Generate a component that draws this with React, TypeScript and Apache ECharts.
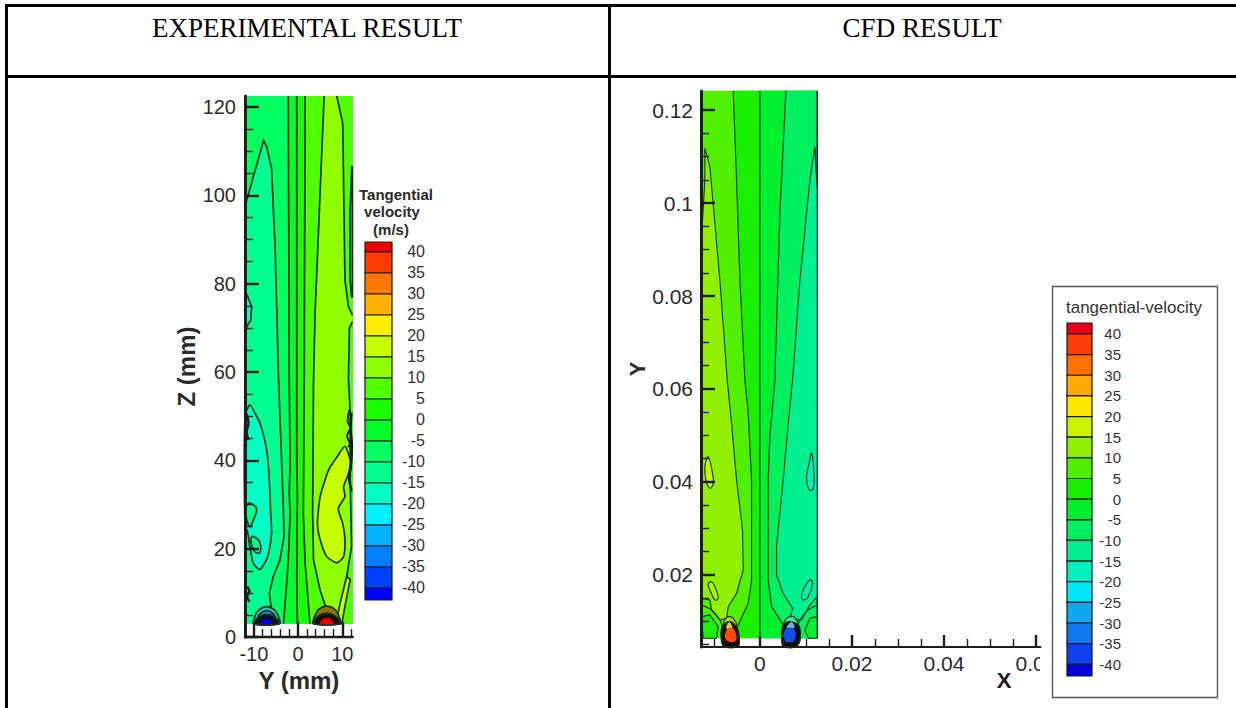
import React, { useEffect, useRef } from "react";
import * as echarts from "echarts";

type P = number[];

// ---------- legend ----------
const levelValues = [40, 35, 30, 25, 20, 15, 10, 5, 0, -5, -10, -15, -20, -25, -30, -35, -40];
const expPalette = ["#f00000", "#ff3c00", "#ff7800", "#ffb000", "#ffee00", "#c8ff00", "#90ff00", "#50ff00", "#18ff00", "#00ff28", "#00ff60", "#00ff90", "#00ffc4", "#00f0ff", "#00b0ff", "#0080ff", "#0040ff", "#0000ff"];
const cfdPalette = ["#e80018", "#ff3c08", "#ff7000", "#ffaa00", "#ffe800", "#c8f400", "#90f000", "#50f000", "#18f000", "#00f030", "#00f060", "#00f090", "#00f0c0", "#00e8f8", "#10a8f0", "#1078f0", "#1040f0", "#0000e0"];
const expLegendEdges = [42.38, 40, 35, 30, 25, 20, 15, 10, 5, 0, -5, -10, -15, -20, -25, -30, -35, -40, -42.86];
const cfdLegendEdges = [42.66, 40, 35, 30, 25, 20, 15, 10, 5, 0, -5, -10, -15, -20, -25, -30, -35, -40, -42.83];

// ---------- experimental contours: [Y mm, Z mm] ----------
const expFrame: P[] = [[-12, 3], [12.3, 3], [12.3, 122.5], [-12, 122.5]];
const expLineA: P[] = [[-11.8, 98.2], [-9.7, 105.7], [-7.8, 112.4], [-7.1, 111], [-6, 106.1], [-5.2, 88.4], [-4.4, 58.2], [-3.7, 39.3], [-3.3, 28], [-3.2, 22.7], [-4.1, 17.4], [-5.6, 13.7], [-6.5, 9.9], [-6, 6.1], [-4.8, 3.1]];
const expLineACorner: P[] = [[-12, 3], [-12, 95.9]];
const expLineB: P[] = [[-2.2, 122.5], [-2, 58.2], [-1.8, 39.3], [-2, 32.5], [-1.8, 28], [-2.2, 17.4], [-2.7, 10.6], [-3.3, 3]];
const expLineC: P[] = [[-0.3, 122.5], [-0.3, 39.3], [-0.15, 31.8], [-0.3, 12.9], [-0.15, 3]];
const expLineD: P[] = [[1.6, 122.5], [1.4, 58.2], [1.2, 28], [1.6, 16.7], [2.7, 3]];
const expLineE: P[] = [[5.9, 122.5], [3.85, 73.3], [3.5, 58.2], [3.3, 28], [3.5, 17.4], [5, 10.6], [6.5, 6.1], [6.9, 3]];
const expLineFLower: P[] = [[8.75, 3], [9.9, 8.4], [11, 13.7], [12.1, 20.5], [11.8, 35.5], [11.8, 50.6], [11.4, 58.2], [11.6, 69.9], [12.3, 71.4]];
const expLineFUpper: P[] = [[12.3, 72.9], [11.4, 74.8], [10.6, 80.8], [10.4, 95.9], [10.1, 116.3], [8.75, 122.5]];
const expRegionG: P[] = [[10.6, 43.2], [9.1, 41.2], [6.9, 37.8], [5, 31.8], [4.4, 25.7], [5, 22], [6.5, 18.2], [8.75, 16.8], [10.3, 18.2], [10.6, 22], [10.1, 25.7], [9.1, 29.1], [10.6, 31.8], [10.3, 34], [11.4, 37], [11.8, 40]];
const expRegionH: P[] = [[-10.9, 52.5], [-9.7, 50.6], [-8.6, 48.4], [-7.1, 42.3], [-6.5, 35.5], [-6.2, 28], [-6, 23.5], [-6.9, 18.2], [-8.6, 15.3], [-10.1, 16.7], [-10.9, 20.5], [-11.5, 24.2], [-12, 24.2], [-12, 50]];
const expIsleA: P[] = [[-11.2, 30.3], [-9.4, 29.1], [-10.1, 26.5], [-10.9, 25], [-11.8, 28]];
const expIsleB: P[] = [[-10.5, 22.7], [-8.7, 21.6], [-8.7, 19], [-10.1, 19.7]];
const expIsleC: P[] = [[-12, 77], [-11.5, 77.4], [-10.5, 74.8], [-10.7, 71.8], [-11.8, 69.9], [-12, 70]];
const expIsleD: P[] = [[12.3, 106.5], [12.14, 106.5], [11.76, 95.9], [11.76, 80.8], [12.14, 77], [12.3, 77]];
const expWedge: P[] = [[11, 13.7], [11.8, 13], [10.7, 7.5], [9.9, 3], [8.5, 3], [9.6, 8]];
const expWallA: P[] = [[11.6, 51.4], [11.2, 48.8], [11.8, 47.5], [11.1, 45.5], [11.7, 43.8], [11.3, 43]];
const expWallB: P[] = [[12.1, 50.8], [11.9, 47], [12.2, 43.5], [11.9, 38], [11.5, 36.5], [12.1, 33]];
const expWallC: P[] = [[-11.7, 50.6], [-11.2, 48.5], [-11.6, 46.5], [-11.2, 44.6]];
const expWallD: P[] = [[-11.5, 11.4], [-11, 10.4], [-11.5, 9.1], [-11, 8]];
const expBlueOuter: P[] = [[-10, 3], [-9.7, 4.8], [-8.8, 6.2], [-7.1, 6.9], [-5.4, 6.2], [-4.5, 4.8], [-4.2, 3]];
const expBlueMid: P[] = [[-9.3, 3], [-9, 4.6], [-8.2, 5.6], [-7.1, 6], [-6, 5.6], [-5.2, 4.6], [-4.9, 3]];
const expBlueDark: P[] = [[-10, 3], [-9.3, 4.2], [-8, 5], [-7.1, 5.1], [-6.2, 5], [-4.9, 4.2], [-4.2, 3]];
const expBlueCore: P[] = [[-8.4, 3], [-7.9, 3.8], [-7.1, 4.1], [-6.3, 3.8], [-5.8, 3]];
const expRedOuter: P[] = [[3.5, 3], [3.8, 4.8], [4.7, 6.3], [6.5, 7], [8.3, 6.3], [9.2, 4.8], [9.5, 3]];
const expRedDark: P[] = [[3.5, 3], [4.2, 4.4], [5.4, 5.2], [6.5, 5.4], [7.6, 5.2], [8.8, 4.4], [9.5, 3]];
const expRedCore: P[] = [[5, 3], [5.4, 3.9], [6.5, 4.3], [7.6, 3.9], [8, 3]];

// ---------- CFD contours: [X m, Y m] ----------
const cfdFrame: P[] = [[-0.0127, 0.00638], [0.01246, 0.00638], [0.01246, 0.12416], [-0.0127, 0.12416]];
const cfdLeftWedge: P[] = [[-0.01196, 0.11176], [-0.01087, 0.10781], [-0.0087, 0.08344], [-0.0071, 0.06194], [-0.00616, 0.05262], [-0.00507, 0.04043], [-0.00377, 0.02968], [-0.00362, 0.02108], [-0.00507, 0.01606], [-0.00688, 0.01319], [-0.00725, 0.01068], [-0.0087, 0.01032], [-0.01051, 0.01247], [-0.01087, 0.01462], [-0.01268, 0.01498], [-0.01268, 0.09276], [-0.01196, 0.10495]];
const cfdLineB: P[] = [[-0.0058, 0.12416], [-0.00507, 0.10495], [-0.00435, 0.08344], [-0.00326, 0.06194], [-0.00254, 0.05477], [-0.00181, 0.04043], [-0.00181, 0.01892], [-0.00254, 0.01391], [-0.00471, 0.00925], [-0.0058, 0.00638]];
const cfdLineC: P[] = [[0, 0.12416], [0, 0.00638]];
const cfdLineD: P[] = [[0.00565, 0.12416], [0.00435, 0.09778], [0.00326, 0.06194], [0.00217, 0.04975], [0.00181, 0.04043], [0.00181, 0.01892], [0.00254, 0.01319], [0.00507, 0.00925], [0.00507, 0.00638]];
const cfdRightWedge: P[] = [[0.01196, 0.11211], [0.01087, 0.10495], [0.0087, 0.08344], [0.0071, 0.06194], [0.00616, 0.05262], [0.00507, 0.04043], [0.00362, 0.02609], [0.00362, 0.01996], [0.00507, 0.01606], [0.0071, 0.01283], [0.00652, 0.01068], [0.00906, 0.01032], [0.01087, 0.01355], [0.01246, 0.01534], [0.01246, 0.1028]];
const cfdRightWall: P[] = [[0.01246, 0.12416], [0.01246, 0.00638]];
const cfdCornerLeft: P[] = [[-0.01268, 0.01104], [-0.01087, 0.0114], [-0.00906, 0.00889], [-0.00942, 0.00638], [-0.01232, 0.00638]];
const cfdCornerRight: P[] = [[0.01246, 0.01104], [0.01087, 0.01068], [0.00978, 0.00817], [0.0105, 0.00638], [0.01246, 0.00638]];
const cfdArcLeft: P[] = [[-0.01268, 0.01355], [-0.01051, 0.01247], [-0.0087, 0.01032], [-0.00797, 0.00817]];
const cfdArcRight: P[] = [[0.01246, 0.01355], [0.0105, 0.01247], [0.0087, 0.01032], [0.00797, 0.00817]];
const cfdIsleA: P[] = [[-0.01123, 0.04545], [-0.01029, 0.04186], [-0.01014, 0.03971], [-0.01087, 0.03864], [-0.01174, 0.04043], [-0.01196, 0.0433]];
const cfdIsleB: P[] = [[0.01123, 0.04616], [0.01174, 0.04186], [0.01159, 0.03864], [0.01072, 0.03828], [0.01014, 0.04115], [0.01072, 0.044]];
const cfdIsleC: P[] = [[-0.01072, 0.01857], [-0.00978, 0.01749], [-0.00906, 0.01498], [-0.00978, 0.01462], [-0.01087, 0.01677], [-0.01123, 0.01785]];
const cfdIsleD: P[] = [[0.01087, 0.01892], [0.01145, 0.01821], [0.0105, 0.01534], [0.00942, 0.01462], [0.00906, 0.0157], [0.00978, 0.01749]];
const cfdRedOuter: P[] = [[-0.00783, 0.00996], [-0.00688, 0.01104], [-0.0058, 0.01068], [-0.00493, 0.00889], [-0.00493, 0.0053], [-0.00783, 0.0053]];
const cfdRedDark: P[] = [[-0.00848, 0.0071], [-0.00797, 0.00925], [-0.00652, 0.00996], [-0.00507, 0.00889], [-0.00449, 0.00674], [-0.00471, 0.00459], [-0.00783, 0.00459]];
const cfdRedSwirl: P[] = [[-0.00739, 0.00889], [-0.00667, 0.00996], [-0.00594, 0.00889], [-0.00638, 0.00817], [-0.0071, 0.00817]];
const cfdRedCore: P[] = [[-0.00754, 0.00746], [-0.00688, 0.00853], [-0.0058, 0.00853], [-0.00507, 0.00674], [-0.00543, 0.00566], [-0.00688, 0.00566], [-0.00754, 0.00638]];
const cfdBlueOuter: P[] = [[0.00507, 0.00889], [0.0058, 0.01068], [0.00725, 0.01104], [0.00833, 0.0096], [0.00855, 0.0053], [0.00522, 0.0053]];
const cfdBlueDark: P[] = [[0.00471, 0.00674], [0.00507, 0.00925], [0.00652, 0.00996], [0.00833, 0.00925], [0.00884, 0.0071], [0.00797, 0.00459], [0.00507, 0.00459]];
const cfdBlueSwirl: P[] = [[0.0058, 0.00889], [0.00688, 0.00996], [0.00761, 0.00889], [0.00688, 0.00817], [0.00601, 0.00817]];
const cfdBlueCore: P[] = [[0.00507, 0.0071], [0.0058, 0.00853], [0.00725, 0.00853], [0.00783, 0.0071], [0.00725, 0.00566], [0.00565, 0.00566]];

// ---------- axis ticks ----------
const expYMajor = [0, 20, 40, 60, 80, 100, 120];
const expYMinor = [5, 10, 15, 25, 30, 35, 45, 50, 55, 65, 70, 75, 85, 90, 95, 105, 110, 115];
const expXMajor = [-10, 0, 10];
const expXMinor = [-12, -8, -6, -4, -2, 2, 4, 6, 8, 12];
const cfdYMajor = [0.02, 0.04, 0.06, 0.08, 0.1, 0.12];
const cfdYMinor = [0.005, 0.01, 0.015, 0.025, 0.03, 0.035, 0.045, 0.05, 0.055, 0.065, 0.07, 0.075, 0.085, 0.09, 0.095, 0.105, 0.11, 0.115];
const cfdXMajor = [0, 0.02, 0.04, 0.06];
const cfdXMinor = [-0.01, -0.005, 0.005, 0.01, 0.015, 0.025, 0.03, 0.035, 0.045, 0.05, 0.055];

type Layer = { pts: P[]; fill?: string; w?: number; stroke?: string; smooth?: number };
const rightOf = (line: P[], y0: number, y1: number, xr: number): P[] => [...line, [xr, y0], [xr, y1]];
const lineColor = "#14341a";

const expLayers: Layer[] = [
  { pts: expFrame, fill: expPalette[10], w: 0 },
  { pts: rightOf(expLineB, 3, 122.5, 12.3), fill: expPalette[9], w: 0 },
  { pts: rightOf(expLineC, 3, 122.5, 12.3), fill: expPalette[8], w: 0 },
  { pts: rightOf(expLineD, 3, 122.5, 12.3), fill: expPalette[7], w: 0 },
  { pts: [...expLineE, ...expLineFLower, ...expLineFUpper], fill: expPalette[6], w: 0 },
  { pts: [...expLineACorner, ...expLineA], fill: expPalette[11], w: 0 },
  { pts: expLineA },
  { pts: expLineB },
  { pts: expLineC },
  { pts: expLineD },
  { pts: expLineE },
  { pts: expLineFLower },
  { pts: expLineFUpper },
  { pts: expRegionH, fill: expPalette[12], smooth: 0.25 },
  { pts: expRegionG, fill: expPalette[5], smooth: 0.2 },
  { pts: expWedge, fill: expPalette[5] },
  { pts: expIsleA, fill: expPalette[11], smooth: 0.4 },
  { pts: expIsleB, fill: expPalette[11], smooth: 0.4 },
  { pts: expIsleC, fill: expPalette[12] },
  { pts: expIsleD, fill: expPalette[8] },
  { pts: expWallA, w: 1.8, stroke: "#102010", smooth: 0.4 },
  { pts: expWallB, w: 2.4, stroke: "#102010", smooth: 0.4 },
  { pts: expWallC, w: 2.4, stroke: "#102010", smooth: 0.4 },
  { pts: expWallD, w: 2.4, stroke: "#102010", smooth: 0.4 },
  { pts: expBlueOuter, fill: "#30c8c0", smooth: 0.3 },
  { pts: expBlueMid, fill: "#1088c8", smooth: 0.3 },
  { pts: expBlueDark, fill: "#06121a", smooth: 0.3 },
  { pts: expBlueCore, fill: expPalette[17], w: 0, smooth: 0.3 },
  { pts: expRedOuter, fill: "#8a7410", smooth: 0.3 },
  { pts: expRedDark, fill: "#1a0c04", smooth: 0.3 },
  { pts: expRedCore, fill: expPalette[0], w: 0, smooth: 0.3 },
];

const cfdLayers: Layer[] = [
  { pts: cfdFrame, fill: cfdPalette[7], w: 0 },
  { pts: rightOf(cfdLineB, 0.00638, 0.12416, 0.01246), fill: cfdPalette[8], w: 0 },
  { pts: rightOf(cfdLineC, 0.00638, 0.12416, 0.01246), fill: cfdPalette[9], w: 0 },
  { pts: rightOf(cfdLineD, 0.00638, 0.12416, 0.01246), fill: cfdPalette[10], w: 0 },
  { pts: cfdLineB },
  { pts: cfdLineC },
  { pts: cfdLineD },
  { pts: cfdRightWall, w: 1.6 },
  { pts: cfdLeftWedge, fill: cfdPalette[6] },
  { pts: cfdRightWedge, fill: cfdPalette[11] },
  { pts: cfdCornerLeft, fill: cfdPalette[8] },
  { pts: cfdCornerRight, fill: cfdPalette[9] },
  { pts: cfdIsleA, fill: cfdPalette[5], smooth: 0.4 },
  { pts: cfdIsleB, fill: cfdPalette[12], smooth: 0.4 },
  { pts: cfdIsleC, fill: "#a8f800", smooth: 0.4 },
  { pts: cfdIsleD, fill: "#00f0b0", smooth: 0.4 },
  { pts: cfdArcLeft, smooth: 0.3 },
  { pts: cfdArcRight, smooth: 0.3 },
  { pts: cfdRedOuter, fill: "#a8d820", smooth: 0.3 },
  { pts: cfdRedDark, fill: "#0c0c06", smooth: 0.3 },
  { pts: cfdRedSwirl, fill: "#d8c860", w: 1, smooth: 0.3 },
  { pts: cfdRedCore, fill: "#ff4a10", w: 0, smooth: 0.3 },
  { pts: cfdBlueOuter, fill: "#40e8a0", smooth: 0.3 },
  { pts: cfdBlueDark, fill: "#060c14", smooth: 0.3 },
  { pts: cfdBlueSwirl, fill: "#70b8d0", w: 1, smooth: 0.3 },
  { pts: cfdBlueCore, fill: "#1050e8", w: 0, smooth: 0.3 },
];

const layerSeries = (layers: Layer[], idx: number, defaultWidth: number) => ({
  type: "custom",
  xAxisIndex: idx,
  yAxisIndex: idx,
  coordinateSystem: "cartesian2d",
  clip: false,
  silent: true,
  z: 2,
  data: layers.map((_, i) => [i]),
  renderItem: (params: any, api: any) => {
    const l = layers[params.dataIndex];
    const points = l.pts.map((p) => api.coord(p));
    const lineWidth = l.w ?? defaultWidth;
    return {
      type: l.fill ? "polygon" : "polyline",
      shape: { points, smooth: l.smooth ?? 0 },
      style: {
        fill: l.fill ?? "none",
        stroke: lineWidth > 0 ? l.stroke ?? lineColor : "none",
        lineWidth,
      },
    };
  },
});

const legendSeries = (edges: number[], palette: string[], idx: number) => ({
  type: "custom",
  xAxisIndex: idx,
  yAxisIndex: idx,
  coordinateSystem: "cartesian2d",
  silent: true,
  clip: false,
  z: 2,
  data: palette.map((_, i) => [i]),
  renderItem: (params: any, api: any) => {
    const i = params.dataIndex;
    const a = api.coord([0, edges[i]]);
    const b = api.coord([1, edges[i + 1]]);
    return {
      type: "rect",
      shape: { x: a[0], y: a[1], width: b[0] - a[0], height: b[1] - a[1] },
      style: { fill: palette[i], stroke: "#1a1a1a", lineWidth: 1.2 },
    };
  },
});

const plotFont = "'Liberation Sans', Arial, sans-serif";
const tickColor = "#1c1c1c";

const valueAxis = (o: any) => ({
  type: "value",
  scale: true,
  splitLine: { show: false },
  z: 10,
  ...o,
});

const mainAxis = (grid: number, min: number, max: number, major: number[], len: number, lineW: number, fontSize: number, margin: number, formatter: any, extra: any = {}) =>
  valueAxis({
    gridIndex: grid,
    min,
    max,
    axisLine: { show: true, onZero: false, lineStyle: { color: tickColor, width: lineW } },
    axisTick: { show: true, inside: true, length: len, customValues: major, lineStyle: { color: tickColor, width: 2.4 } },
    axisLabel: { show: true, customValues: major, fontFamily: plotFont, fontSize, color: "#2a2a2a", margin, formatter, showMinLabel: true, showMaxLabel: true, hideOverlap: false },
    ...extra,
  });

const minorAxis = (grid: number, min: number, max: number, minor: number[], len: number) =>
  valueAxis({
    gridIndex: grid,
    min,
    max,
    axisLine: { show: false, onZero: false },
    axisTick: { show: true, inside: true, length: len, customValues: minor, lineStyle: { color: tickColor, width: 1.4 } },
    axisLabel: { show: false },
  });

const hiddenAxis = (grid: number, min: number, max: number) =>
  valueAxis({ gridIndex: grid, min, max, axisLine: { show: false, onZero: false }, axisTick: { show: false }, axisLabel: { show: false } });

const legendAxis = (grid: number, edges: number[], fontSize: number, margin: number) =>
  valueAxis({
    gridIndex: grid,
    position: "right",
    min: edges[edges.length - 1],
    max: edges[0],
    axisLine: { show: false, onZero: false },
    axisTick: { show: false },
    axisLabel: { show: true, customValues: levelValues, align: "right", margin, fontFamily: plotFont, fontSize, color: "#333", padding: [6, 0, 0, 0], showMinLabel: true, showMaxLabel: true, hideOverlap: false },
  });

const boldName = { fontFamily: plotFont, fontWeight: "bold", color: "#2a2a2a" };
const headerFont = "27px 'Liberation Serif', 'Times New Roman', serif";

const option: any = {
  animation: false,
  backgroundColor: "#ffffff",
  grid: [
    { left: 245, top: 96, width: 107.7, height: 541 },
    { left: 701, top: 91, width: 339.5, height: 556 },
    { left: 365, top: 242, width: 27, height: 358 },
    { left: 1067, top: 323, width: 25, height: 353 },
    { left: 245, top: 96, width: 107.7, height: 541 },
    { left: 701, top: 91, width: 339.5, height: 556 },
  ],
  xAxis: [
    mainAxis(0, -12, 12.36, expXMajor, 15, 2.4, 20, 7, undefined, { name: "Y (mm)", nameLocation: "middle", nameGap: 27, nameTextStyle: { ...boldName, fontSize: 24 } }),
    mainAxis(1, -0.0128, 0.061, cfdXMajor, 12, 2.2, 21, 6, undefined),
    hiddenAxis(2, 0, 1),
    hiddenAxis(3, 0, 1),
    minorAxis(4, -12, 12.36, expXMinor, 8),
    minorAxis(5, -0.0128, 0.061, cfdXMinor, 8),
  ],
  yAxis: [
    mainAxis(0, 0, 122.5, expYMajor, 14, 3, 20, 9, undefined, { name: "Z (mm)", nameLocation: "middle", nameGap: 44, nameTextStyle: { ...boldName, fontSize: 24 } }),
    mainAxis(1, 0.0045, 0.1241, cfdYMajor, 14, 3, 21, 8, (v: number) => String(v), { name: "Y", nameLocation: "middle", nameGap: 46, nameTextStyle: { ...boldName, fontSize: 22 } }),
    legendAxis(2, expLegendEdges, 16, 33),
    legendAxis(3, cfdLegendEdges, 15, 29),
    minorAxis(4, 0, 122.5, expYMinor, 8),
    minorAxis(5, 0.0045, 0.1241, cfdYMinor, 8),
  ],
  series: [
    layerSeries(expLayers, 0, 1.7),
    layerSeries(cfdLayers, 1, 1.1),
    legendSeries(expLegendEdges, expPalette, 2),
    legendSeries(cfdLegendEdges, cfdPalette, 3),
  ],
  graphic: [
    { type: "rect", z: 50, shape: { x: 1040, y: 648, width: 26, height: 30 }, style: { fill: "#ffffff" } },
    { type: "rect", z: 60, shape: { x: 1052.5, y: 286.5, width: 165, height: 411 }, style: { fill: "none", stroke: "#555", lineWidth: 1.4 } },
    { type: "rect", z: 70, shape: { x: 5, y: 4, width: 1231, height: 3 }, style: { fill: "#000" } },
    { type: "rect", z: 70, shape: { x: 5, y: 75, width: 1231, height: 3 }, style: { fill: "#000" } },
    { type: "rect", z: 70, shape: { x: 5, y: 4, width: 3, height: 704 }, style: { fill: "#000" } },
    { type: "rect", z: 70, shape: { x: 608, y: 4, width: 3, height: 704 }, style: { fill: "#000" } },
    { type: "text", z: 70, x: 307, y: 28, style: { text: "EXPERIMENTAL RESULT", fill: "#000", font: headerFont, align: "center", verticalAlign: "middle" } },
    { type: "text", z: 70, x: 922, y: 28, style: { text: "CFD RESULT", fill: "#000", font: headerFont, align: "center", verticalAlign: "middle" } },
    { type: "text", z: 70, x: 396, y: 194, style: { text: "Tangential", fill: "#2a2a2a", font: `bold 15px ${plotFont}`, align: "center", verticalAlign: "middle", width: 84 } },
    { type: "text", z: 70, x: 392, y: 211, style: { text: "velocity", fill: "#2a2a2a", font: `bold 15px ${plotFont}`, align: "center", verticalAlign: "middle" } },
    { type: "text", z: 70, x: 391, y: 229, style: { text: "(m/s)", fill: "#2a2a2a", font: `bold 15px ${plotFont}`, align: "center", verticalAlign: "middle" } },
    { type: "text", z: 70, x: 1134, y: 307, style: { text: "tangential-velocity", fill: "#333", font: `17px ${plotFont}`, align: "center", verticalAlign: "middle" } },
    { type: "text", z: 70, x: 1004, y: 680, style: { text: "X", fill: "#1c1c1c", font: `bold 22px ${plotFont}`, align: "center", verticalAlign: "middle" } },
  ],
};

export default function App() {
  const ref = useRef<HTMLDivElement>(null);
  useEffect(() => {
    document.body.style.margin = "0";
    const chart = echarts.init(ref.current!, undefined, { renderer: "svg" });
    chart.setOption(option);
    return () => chart.dispose();
  }, []);
  return <div ref={ref} style={{ width: 1236, height: 708 }} />;
}
